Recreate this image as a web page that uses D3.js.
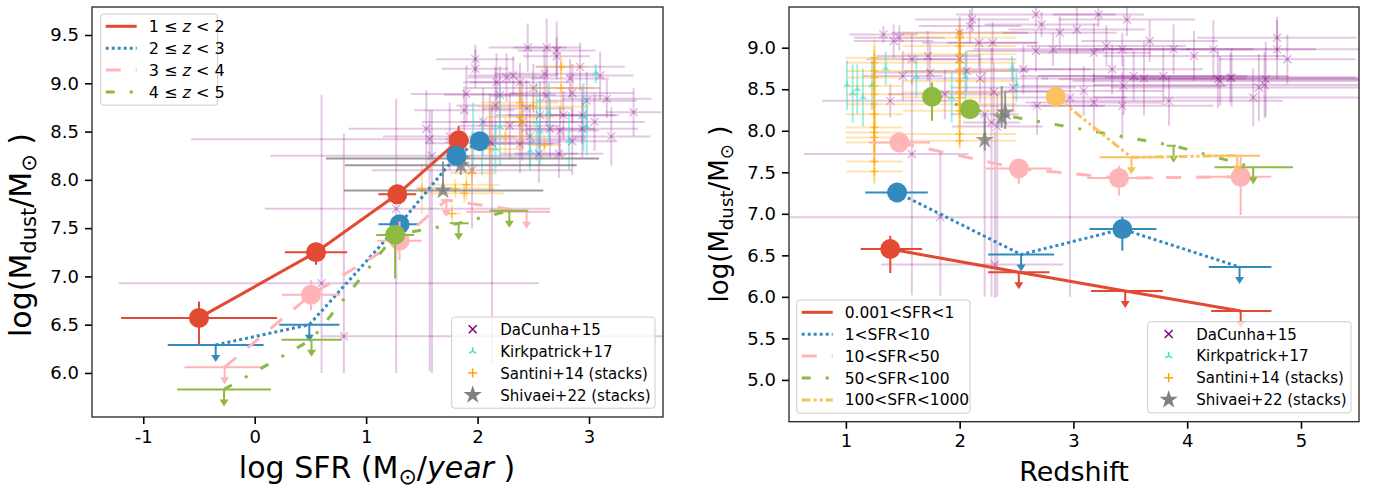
<!DOCTYPE html>
<html>
<head>
<meta charset="utf-8">
<script src="https://cdn.jsdelivr.net/npm/d3@7"></script>
<style>
  body { margin: 0; background: #fff; }
  text { font-family: "DejaVu Sans", sans-serif; fill: #000; }
</style>
</head>
<body>
<svg id="fig" width="1374" height="491"></svg>
<script>
// ---------- data : left panel (log SFR vs log Mdust) ----------
var zbinLabels = [["1 \u2264 ", "z", " < 2"], ["2 \u2264 ", "z", " < 3"], ["3 \u2264 ", "z", " < 4"], ["4 \u2264 ", "z", " < 5"]];
// each series: x, y, x-err minus/plus, y-err minus/plus, upper limit flag
var zbinX   = [[-0.50, 0.55, 1.28, 1.83], [-0.35, 0.49, 1.30, 1.81, 2.02], [-0.27, 0.505, 1.30, 1.72, 2.44], [-0.275, 0.51, 1.26, 1.83, 2.285]];
var zbinY   = [[6.57, 7.25, 7.85, 8.41], [6.29, 6.50, 7.54, 8.25, 8.40], [6.06, 6.81, 7.37, 7.79, 7.67], [5.83, 6.345, 7.43, 7.55, 7.68]];
var zbinXm  = [[0.70, 0.28, 0.17, 0.07], [0.43, 0.27, 0.19, 0.05, 0.05], [0.36, 0.26, 0.20, 0.05, 0.54], [0.42, 0.27, 0.17, 0.08, 0.175]];
var zbinXp  = [[0.70, 0.28, 0.17, 0.09], [0.43, 0.27, 0.17, 0.05, 0.05], [0.37, 0.26, 0.20, 0.05, 0.21], [0.42, 0.27, 0.17, 0.09, 0.17]];
var zbinYm  = [[0.27, 0.13, 0.10, 0.16], [0, 0, 0.05, 0.05, 0.05], [0, 0.16, 0.20, 0, 0], [0, 0, 0.45, 0, 0]];
var zbinYp  = [[0.17, 0.10, 0.10, 0.15], [0, 0, 0.05, 0.05, 0.05], [0, 0.15, 0.20, 0, 0], [0, 0, 0.08, 0, 0]];
var zbinLim = [[0, 0, 0, 0], [1, 1, 0, 0, 0], [1, 0, 0, 1, 1], [1, 1, 0, 1, 1]];

// ---------- data : right panel (redshift vs log Mdust) ----------
var sfrLabels = [["0.001<SFR<1"], ["1<SFR<10"], ["10<SFR<50"], ["50<SFR<100"], ["100<SFR<1000"]];
var sfrX   = [[1.39, 2.52, 3.455, 4.47], [1.45, 2.54, 3.43, 4.46], [1.47, 2.52, 3.40, 4.47], [1.757, 2.09, 3.88, 4.58], [2.845, 3.51, 4.44]];
var sfrY   = [[6.576, 6.296, 6.07, 5.83], [7.257, 6.51, 6.816, 6.36], [7.858, 7.545, 7.43, 7.445], [8.41, 8.26, 7.82, 7.56], [8.41, 7.68, 7.70]];
var sfrXm  = [[0.26, 0.27, 0.30, 0.26], [0.28, 0.29, 0.29, 0.27], [0.27, 0.29, 0.28, 0.36], [0.02, 0.02, 0.06, 0.34], [0.02, 0.28, 0.30]];
var sfrXp  = [[0.28, 0.27, 0.33, 0.27], [0.27, 0.29, 0.30, 0.28], [0.27, 0.29, 0.30, 0.27], [0.02, 0.02, 0.02, 0.35], [0.02, 0.29, 0.20]];
var sfrYm  = [[0.29, 0, 0, 0], [0.06, 0, 0.26, 0], [0.05, 0.19, 0.21, 0.46], [0.29, 0.02, 0, 0], [0, 0, 0]];
var sfrYp  = [[0.16, 0, 0, 0], [0.06, 0, 0.15, 0], [0.05, 0.11, 0.15, 0.24], [0.17, 0.02, 0, 0], [0, 0, 0]];
var sfrLim = [[0, 1, 1, 1], [0, 1, 0, 1], [0, 0, 0, 0], [0, 0, 1, 1], [0, 1, 1]];

var seriesColors = ["#E24A33", "#348ABD", "#FFB5B8", "#8EBA42", "#FBC15E"];
var seriesDash   = [null, "3,3", "15,15", "9,15,3,15", "9,3,3,3,3,3"];

// ---------- literature : rows [x, y, x-, x+, y-, y+] ----------
var daCunhaSfr = [
  [1.98,9.25,0.35,0.35,0.15,0.15],[1.98,9.15,0.30,0.30,0.20,0.20],[2.45,9.37,0.35,0.35,0.25,0.25],
  [2.62,9.37,0.30,0.30,0.30,0.30],[2.71,9.34,0.35,0.35,0.30,0.30],[2.71,9.28,0.30,0.30,0.20,0.20],
  [2.32,9.08,0.40,0.40,0.20,0.20],[2.26,9.06,0.35,0.35,0.25,0.25],[2.38,9.01,0.45,0.45,0.20,0.20],
  [2.17,9.01,0.30,0.30,0.30,0.30],[3.10,9.08,0.30,0.30,0.25,0.25],[2.92,9.17,0.40,0.40,0.25,0.25],
  [2.83,9.05,0.35,0.35,0.20,0.20],[1.90,8.89,0.50,0.50,0.30,0.30],[1.88,8.72,0.45,0.45,0.25,0.25],
  [3.40,8.70,0.25,0.25,0.25,0.25],[3.16,8.84,0.40,0.40,0.20,0.20],[2.98,8.82,0.45,0.45,0.30,0.30],
  [2.62,8.87,0.50,0.50,0.30,0.30],[2.56,8.67,0.40,0.40,0.35,0.35],[2.77,8.67,0.50,0.50,0.25,0.25],
  [2.94,8.67,0.30,0.30,0.30,0.30],[2.65,8.53,0.40,0.40,0.30,0.30],[2.74,8.51,0.35,0.35,0.25,0.25],
  [2.94,8.53,0.50,0.50,0.30,0.30],[2.44,8.74,0.40,0.40,0.30,0.30],[2.29,8.56,0.45,0.45,0.35,0.35],
  [2.38,8.37,0.30,0.30,0.30,0.30],[2.55,8.27,0.35,0.35,0.30,0.30],[2.73,8.27,0.40,0.40,0.25,0.25],
  [2.16,8.77,0.35,0.35,0.40,0.40],[2.11,8.39,0.40,0.40,0.50,0.50],[1.54,8.53,0.70,0.70,0.40,0.40],
  [2.05,8.60,0.55,0.55,0.35,0.35],[2.50,8.95,0.60,0.60,0.25,0.25],[2.85,8.40,0.40,0.40,0.35,0.35],
  [3.05,8.60,0.45,0.45,0.30,0.30],[2.20,8.88,0.50,0.50,0.30,0.30],[2.40,8.60,0.55,0.55,0.40,0.40],
  [1.75,8.45,0.60,0.60,0.35,0.35],[2.60,9.10,0.45,0.45,0.25,0.25],[1.95,8.10,0.90,0.90,0.60,0.40],
  [2.85,8.90,0.55,0.55,0.30,0.30],[2.47,8.45,0.50,0.50,0.30,0.30],[3.20,8.45,0.35,0.35,0.30,0.30],
  [0.60,6.93,1.82,1.95,0.93,1.95],[0.80,6.38,0.20,2.90,0.38,2.10],[1.27,7.70,1.18,1.38,1.70,1.14],
  [1.59,8.25,1.45,1.20,2.25,0.47],[1.57,8.42,2.14,1.40,2.40,0.30],[2.13,8.38,0.60,0.60,2.30,0.40]
];
var daCunhaZ = [
  [1.33,9.16,0.30,0.30,0.10,0.10],[1.42,9.08,0.35,0.35,0.20,0.20],[1.47,9.12,0.40,0.40,0.15,0.15],
  [1.58,8.86,0.40,0.40,0.30,0.30],[1.39,8.36,0.60,0.60,0.20,0.20],[2.11,9.34,0.50,0.50,0.15,0.15],
  [2.09,9.26,0.45,0.45,0.20,0.20],[2.00,9.18,0.60,0.60,0.20,0.20],[2.17,9.06,0.50,0.50,0.30,0.30],
  [2.29,9.06,0.40,0.40,0.25,0.25],[2.00,8.86,0.50,0.50,0.35,0.35],[1.72,8.90,0.45,0.45,0.30,0.30],
  [1.74,8.70,0.50,0.50,0.35,0.35],[1.50,8.66,0.35,0.35,0.30,0.30],[1.87,8.44,0.50,0.50,0.30,0.30],
  [2.06,8.72,0.55,0.55,0.25,0.25],[2.18,8.63,0.60,0.60,0.30,0.30],[2.30,8.47,0.50,0.50,0.35,0.35],
  [2.47,8.52,0.55,0.55,0.30,0.30],[2.56,8.74,0.60,0.60,0.30,0.30],[2.67,9.40,0.70,0.70,0.15,0.15],
  [2.72,9.28,0.50,0.50,0.15,0.15],[2.88,9.18,0.50,0.50,0.20,0.20],[3.03,9.22,0.60,0.60,0.30,0.30],
  [2.82,8.98,0.70,0.70,0.20,0.20],[2.67,8.96,0.60,0.60,0.25,0.25],[3.22,9.40,0.40,0.40,0.15,0.15],
  [3.47,9.34,0.60,0.60,0.20,0.20],[3.29,9.02,0.70,0.70,0.25,0.25],[3.18,8.94,0.50,0.50,0.35,0.35],
  [3.43,8.98,0.60,0.60,0.20,0.20],[3.67,9.08,0.60,0.60,0.25,0.25],[3.88,8.98,0.70,0.70,0.30,0.30],
  [4.06,8.90,0.80,0.80,0.30,0.30],[4.23,8.98,0.90,0.90,0.35,0.35],[3.09,8.48,0.70,0.70,0.30,0.30],
  [3.18,8.34,0.60,0.60,0.35,0.35],[3.34,8.74,0.80,0.80,0.30,0.30],[3.44,8.54,0.90,0.90,0.35,0.35],
  [3.53,8.66,1.00,1.00,0.30,0.30],[3.62,8.63,0.90,0.90,0.45,0.45],[3.79,8.66,1.10,1.10,0.35,0.35],
  [3.84,8.36,1.00,1.00,0.30,0.30],[3.43,8.30,0.80,0.80,0.40,0.40],[2.68,8.30,0.60,0.60,0.35,0.35],
  [4.29,8.60,1.30,1.30,0.30,0.30],[4.39,8.64,1.20,1.20,0.35,0.35],[4.58,8.40,1.40,1.40,0.35,0.35],
  [4.63,8.52,1.30,1.30,0.40,0.40],[4.69,8.62,1.20,1.20,0.45,0.45],[4.68,8.55,1.50,1.50,0.40,0.40],
  [4.79,9.12,0.70,0.70,0.25,0.25],[4.79,8.98,0.80,0.80,0.35,0.35],[4.88,8.86,0.60,0.60,0.30,0.30],
  [4.27,8.62,1.40,1.40,0.35,0.35],[4.38,8.64,1.10,1.10,0.30,0.30],
  [1.83,6.96,1.40,3.80,0.95,0.80],[2.31,6.39,1.00,0.60,0.40,1.60],[1.58,7.72,0.95,0.50,1.70,0.90],
  [2.22,8.20,0.30,0.30,2.20,0.50],[2.28,8.10,0.25,0.25,2.10,0.90],[2.33,8.05,0.40,0.40,2.05,0.40],
  [2.97,8.40,0.50,0.50,2.40,0.60]
];
// Kirkpatrick+17 : [x, y, xerr, yerr]
var kirkSfr = [[1.96,8.45,0.02,0.35],[2.04,8.35,0.02,0.30],[2.16,8.32,0.02,0.26],[2.20,8.55,0.02,0.40],
  [2.53,8.60,0.02,0.40],[2.56,8.50,0.02,0.35],[2.64,8.70,0.02,0.30],[2.82,8.40,0.02,0.30],
  [2.95,8.65,0.02,0.35],[2.98,8.55,0.02,0.30],[3.06,9.10,0.02,0.10],[2.47,8.30,0.02,0.20]];
var kirkZ = [[1.01,8.55,0.02,0.30],[1.06,8.45,0.02,0.35],[1.10,8.50,0.02,0.30],[1.15,8.40,0.02,0.35],
  [1.23,8.55,0.02,0.30],[1.35,8.75,0.02,0.20],[1.62,8.65,0.02,0.25],[1.93,8.40,0.02,0.30],
  [2.05,8.65,0.02,0.30],[2.46,8.75,0.02,0.15],[2.50,8.55,0.02,0.20]];
// Santini+14 stacks : [x, y, xerr, yerr]
var santiniSfr = [[2.38,8.65,0.30,0.35],[2.38,8.80,0.35,0.20],[2.75,9.17,0.23,0.12],[2.75,8.95,0.30,0.28],
  [2.50,8.76,0.50,0.15],[2.40,8.60,0.15,0.25],[2.11,8.32,0.30,0.45],[1.80,7.91,0.35,0.10],
  [1.50,7.91,0.05,0.26],[1.90,7.95,0.30,0.16],[1.77,7.65,0.08,0.10],[1.88,7.86,0.36,0.10],
  [1.95,8.07,0.20,0.10],[2.60,8.36,0.15,0.10],[2.25,8.45,0.30,0.20]];
var santiniZ = [[1.25,8.88,0.25,0.22],[1.25,8.82,0.25,0.20],[1.25,8.72,0.25,0.25],[1.25,8.64,0.25,0.20],
  [1.25,8.54,0.25,0.30],[1.25,8.44,0.25,0.25],[1.25,8.32,0.25,0.30],[1.25,8.20,0.25,0.25],
  [1.25,8.04,0.25,0.30],[1.25,7.98,0.25,0.25],[1.25,7.92,0.25,0.30],[1.25,7.86,0.25,0.25],
  [1.25,7.63,0.25,0.25],[1.25,7.51,0.25,0.15],
  [2.00,9.18,0.50,0.12],[2.00,9.12,0.50,0.15],[2.00,9.02,0.50,0.20],[2.00,8.92,0.50,0.20],
  [2.00,8.82,0.50,0.25],[2.00,8.72,0.50,0.25],[2.00,8.60,0.50,0.30],[2.00,8.46,0.50,0.30],
  [2.00,8.40,0.50,0.30],[2.00,8.32,0.50,0.30],[2.00,8.24,0.50,0.30],[2.00,7.96,0.50,0.15],
  [2.00,7.88,0.50,0.10]];
// Shivaei+22 stacks : [x, y, x-, x+, y-, y+]
var shivaeiSfr = [[1.69,7.89,0.89,0.90,0.02,0.30],[1.85,8.15,1.04,1.04,0.10,0.10],[1.86,8.22,1.22,1.23,0.05,0.05]];
var shivaeiZ   = [[2.22,7.89,0.0,0.0,0.13,0.31],[2.37,8.16,0.0,0.0,0.12,0.38],[2.40,8.22,0.0,0.0,0.20,0.25]];

var litLabels = ["DaCunha+15", "Kirkpatrick+17", "Santini+14 (stacks)", "Shivaei+22 (stacks)"];

// ---------- figure ----------
var svg = d3.select("#fig");

function symPath(kind, s) {
  if (kind == "x") return "M" + (-s) + "," + (-s) + "L" + s + "," + s + "M" + (-s) + "," + s + "L" + s + "," + (-s);
  if (kind == "+") return "M" + (-s) + ",0L" + s + ",0M0," + (-s) + "L0," + s;
  if (kind == "tri") return "M0,0L0," + (-s) + "M0,0L" + (-s * 0.87) + "," + (s * 0.5) + "M0,0L" + (s * 0.87) + "," + (s * 0.5);
  return d3.symbol(d3.symbolStar, s * s * 1.3)();
}

function makePanel(cfg) {
  var x = d3.scaleLinear().domain(cfg.xDomain).range([cfg.left, cfg.right]);
  var y = d3.scaleLinear().domain(cfg.yDomain).range([cfg.bottom, cfg.top]);
  svg.append("clipPath").attr("id", cfg.id)
    .append("rect").attr("x", cfg.left).attr("y", cfg.top)
    .attr("width", cfg.right - cfg.left).attr("height", cfg.bottom - cfg.top);
  var plot = svg.append("g").attr("clip-path", "url(#" + cfg.id + ")");

  var xAxis = svg.append("g").attr("transform", "translate(0," + cfg.bottom + ")")
    .call(d3.axisBottom(x).tickValues(cfg.xTicks).tickFormat(function(d) { return String(d); })
      .tickSize(cfg.tick).tickPadding(cfg.pad).tickSizeOuter(0));
  var yAxis = svg.append("g").attr("transform", "translate(" + cfg.left + ",0)")
    .call(d3.axisLeft(y).tickValues(cfg.yTicks).tickFormat(function(d) { return d.toFixed(1); })
      .tickSize(cfg.tick).tickPadding(cfg.pad).tickSizeOuter(0));
  [xAxis, yAxis].forEach(function(a) {
    a.select(".domain").remove();
    a.selectAll("line").attr("stroke", "#000").attr("stroke-width", 1.6);
    a.selectAll("text").attr("font-size", cfg.tickFont).attr("font-family", "DejaVu Sans").attr("fill", "#000");
  });
  return { x: x, y: y, plot: plot, cfg: cfg };
}

function frame(p) {
  var c = p.cfg;
  svg.append("rect").attr("x", c.left).attr("y", c.top)
    .attr("width", c.right - c.left).attr("height", c.bottom - c.top)
    .attr("fill", "none").attr("stroke", "#222").attr("stroke-width", 1.3);
}

function errRows(p, rows, color, alpha, lw) {
  var g = p.plot.append("g").attr("stroke", color).attr("stroke-opacity", alpha).attr("stroke-width", lw).attr("fill", "none");
  rows.forEach(function(r) {
    if (r[2] + r[3] > 0)
      g.append("line").attr("x1", p.x(r[0] - r[2])).attr("x2", p.x(r[0] + r[3])).attr("y1", p.y(r[1])).attr("y2", p.y(r[1]));
    if (r[4] + r[5] > 0)
      g.append("line").attr("x1", p.x(r[0])).attr("x2", p.x(r[0])).attr("y1", p.y(r[1] - r[4])).attr("y2", p.y(r[1] + r[5]));
  });
}

function markRows(p, rows, kind, size, color, alpha, lw) {
  p.plot.append("g").selectAll("path").data(rows).join("path")
    .attr("transform", function(r) { return "translate(" + p.x(r[0]) + "," + p.y(r[1]) + ")"; })
    .attr("d", symPath(kind, size))
    .attr("stroke", kind == "star" ? "none" : color)
    .attr("fill", kind == "star" ? color : "none")
    .attr("opacity", alpha).attr("stroke-width", lw);
}

function sym4(rows) { return rows.map(function(r) { return [r[0], r[1], r[2], r[2], r[3], r[3]]; }); }

function literature(p, dc, kirk, sant, shiv) {
  errRows(p, dc, "purple", 0.22, 2);
  errRows(p, sym4(kirk), "turquoise", 0.5, 2);
  errRows(p, sym4(sant), "orange", 0.3, 2);
  markRows(p, dc, "x", 4, "purple", 0.3, 1.3);
  markRows(p, kirk, "tri", 4, "turquoise", 0.6, 1.3);
  markRows(p, sant, "+", 4, "orange", 0.7, 1.3);
  errRows(p, shiv, "gray", 0.8, 2);
  markRows(p, shiv, "star", 9, "gray", 0.8, 1);
}

function mainSeries(p, X, Y, Xm, Xp, Ym, Yp, Lim) {
  X.forEach(function(xs, i) {
    var col = seriesColors[i];
    var pts = xs.map(function(v, j) { return [v, Y[i][j]]; });
    var line = d3.line().x(function(d) { return p.x(d[0]); }).y(function(d) { return p.y(d[1]); });
    var g = p.plot.append("g");
    g.append("path").attr("d", line(pts)).attr("fill", "none").attr("stroke", col)
      .attr("stroke-width", 3).attr("stroke-dasharray", seriesDash[i]);
    xs.forEach(function(v, j) {
      var cx = p.x(v), cy = p.y(Y[i][j]);
      g.append("line").attr("x1", p.x(v - Xm[i][j])).attr("x2", p.x(v + Xp[i][j]))
        .attr("y1", cy).attr("y2", cy).attr("stroke", col).attr("stroke-width", 2);
      if (Lim[i][j]) {
        g.append("line").attr("x1", cx).attr("x2", cx).attr("y1", cy).attr("y2", cy + 12)
          .attr("stroke", col).attr("stroke-width", 2);
        g.append("path").attr("d", "M" + (cx - 4.5) + "," + (cy + 10) + "L" + (cx + 4.5) + "," + (cy + 10) + "L" + cx + "," + (cy + 17) + "Z")
          .attr("fill", col);
      } else {
        if (Ym[i][j] + Yp[i][j] > 0)
          g.append("line").attr("x1", cx).attr("x2", cx).attr("y1", p.y(Y[i][j] - Ym[i][j])).attr("y2", p.y(Y[i][j] + Yp[i][j]))
            .attr("stroke", col).attr("stroke-width", 2);
        g.append("circle").attr("cx", cx).attr("cy", cy).attr("r", 10).attr("fill", col);
      }
    });
  });
}

function legendBox(x0, y0, w, n) {
  return svg.append("rect").attr("x", x0).attr("y", y0).attr("width", w).attr("height", 25.5 + 21.9 * (n - 1))
    .attr("rx", 3).attr("fill", "#fff").attr("fill-opacity", 0.8).attr("stroke", "#ccc").attr("stroke-width", 1);
}

function lineLegend(x0, y0, w, labels, font) {
  legendBox(x0, y0, w, labels.length);
  labels.forEach(function(lab, i) {
    var yy = y0 + 12.3 + 21.9 * i;
    svg.append("line").attr("x1", x0 + 5).attr("x2", x0 + 36).attr("y1", yy).attr("y2", yy)
      .attr("stroke", seriesColors[i]).attr("stroke-width", 3).attr("stroke-dasharray", seriesDash[i]);
    var t = svg.append("text").attr("x", x0 + 48).attr("y", yy + 5.5).attr("font-size", font);
    lab.forEach(function(part, k) {
      t.append("tspan").attr("font-style", k == 1 ? "italic" : null).text(part);
    });
  });
}

function litLegend(x0, y0, w) {
  legendBox(x0, y0, w, 4);
  var kinds = [["x", 4, "purple"], ["tri", 4, "turquoise"], ["+", 4.5, "orange"], ["star", 9, "gray"]];
  litLabels.forEach(function(lab, i) {
    var yy = y0 + 12.3 + 21.9 * i, k = kinds[i];
    svg.append("path").attr("transform", "translate(" + (x0 + 21) + "," + yy + ")").attr("d", symPath(k[0], k[1]))
      .attr("stroke", k[0] == "star" ? "none" : k[2]).attr("fill", k[0] == "star" ? k[2] : "none").attr("stroke-width", 1.5);
    svg.append("text").attr("x", x0 + 48.5).attr("y", yy + 5.5).attr("font-size", 15).text(lab);
  });
}

// ---- left panel ----
var pL = makePanel({ id: "clipL", left: 92, right: 663, top: 7, bottom: 417,
  xDomain: [-1.46, 3.664], yDomain: [5.544, 9.79], xTicks: [-1, 0, 1, 2, 3],
  yTicks: [6, 6.5, 7, 7.5, 8, 8.5, 9, 9.5], tick: 7, pad: 6, tickFont: 18 });
literature(pL, daCunhaSfr, kirkSfr, santiniSfr, shivaeiSfr);
mainSeries(pL, zbinX, zbinY, zbinXm, zbinXp, zbinYm, zbinYp, zbinLim);
frame(pL);
lineLegend(100.7, 14, 117, zbinLabels, 16);
litLegend(451.7, 317, 203.3);

// ---- right panel ----
var pR = makePanel({ id: "clipR", left: 789, right: 1359, top: 7, bottom: 421.7,
  xDomain: [0.5, 5.51], yDomain: [4.497, 9.49], xTicks: [1, 2, 3, 4, 5],
  yTicks: [5, 5.5, 6, 6.5, 7, 7.5, 8, 8.5, 9], tick: 7, pad: 6, tickFont: 18 });
literature(pR, daCunhaZ, kirkZ, santiniZ, shivaeiZ);
mainSeries(pR, sfrX, sfrY, sfrXm, sfrXp, sfrYm, sfrYp, sfrLim);
frame(pR);
lineLegend(796.7, 300, 173.3, sfrLabels, 15.5);
litLegend(1147.7, 321.7, 203.3);

// ---- axis labels ----
var xl = svg.append("text").attr("x", 377).attr("y", 478).attr("text-anchor", "middle").attr("font-size", 30);
xl.append("tspan").text("log SFR (M");
xl.append("tspan").attr("baseline-shift", "-25%").attr("font-size", 22).text("\u2299");
xl.append("tspan").text("/");
xl.append("tspan").attr("font-style", "italic").text("year");
xl.append("tspan").text(" )");

svg.append("text").attr("x", 1074).attr("y", 481).attr("text-anchor", "middle").attr("font-size", 27).text("Redshift");

function ylab(x, yc, size) {
  var t = svg.append("text").attr("transform", "translate(" + x + "," + yc + ") rotate(-90)")
    .attr("text-anchor", "middle").attr("font-size", size);
  t.append("tspan").text("log(M");
  t.append("tspan").attr("baseline-shift", "-25%").attr("font-size", size * 0.7).text("dust");
  t.append("tspan").text("/M");
  t.append("tspan").attr("baseline-shift", "-25%").attr("font-size", size * 0.7).text("\u2299");
  t.append("tspan").text(" )");
}
ylab(31, 235, 30);
ylab(728, 214, 26);
</script>
</body>
</html>
